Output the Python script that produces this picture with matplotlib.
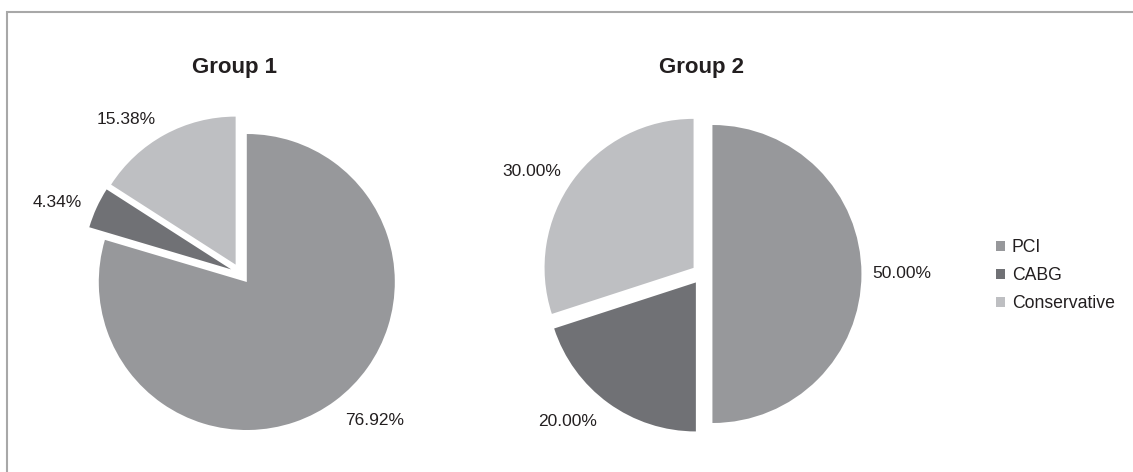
import matplotlib
matplotlib.use("Agg")
import matplotlib.pyplot as plt
from matplotlib.patches import Rectangle, Patch

plt.rcParams['font.family'] = ['Liberation Sans', 'DejaVu Sans']

categories = ["PCI", "CABG", "Conservative"]
group1_values = [76.92, 4.34, 15.38]
group2_values = [50.00, 20.00, 30.00]
group1_labels = ["76.92%", "4.34%", "15.38%"]
group2_labels = ["50.00%", "20.00%", "30.00%"]
titles = ["Group 1", "Group 2"]
colors = ["#97989b", "#707175", "#bebfc2"]
text_color = "#231f20"

W, H = 1133, 472
fig = plt.figure(figsize=(W / 100, H / 100), dpi=100)
fig.patch.set_facecolor("white")

# label positions in radius units (relative to pie centre)
label_pos = [
    [(0.908, -0.99), (-1.237, 0.48), (-0.774, 1.04)],
    [(1.342, 0.0), (-0.899, -0.99), (-1.141, 0.69)],
]

specs = [
    (group1_values, group1_labels, (240.6, 273.7), 148.0, 234.0),
    (group2_values, group2_labels, (702.0, 274.0), 149.0, 701.7),
]

LIM = 1.3
for i, (vals, labs, (cx, cy), r, tx) in enumerate(specs):
    S = 2 * LIM * r
    ax = fig.add_axes([(cx - S / 2) / W, (H - cy - S / 2) / H, S / W, S / H])
    ax.pie(vals, colors=colors, startangle=90, counterclock=False,
           explode=[0.07] * len(vals), radius=1.0,
           wedgeprops=dict(linewidth=0, edgecolor="none"))
    ax.set_xlim(-LIM, LIM)
    ax.set_ylim(-LIM, LIM)
    ax.set_aspect("equal")
    ax.axis("off")
    for lab, (px, py) in zip(labs, label_pos[i]):
        ax.text(px, py, lab, ha="center", va="center", fontsize=12.5,
                color=text_color, clip_on=False)
    fig.text(tx / W, (H - 73.3) / H, titles[i], ha="center", va="baseline",
             fontsize=16, fontweight="bold", color=text_color)

handles = [Patch(facecolor=c, edgecolor="none") for c in colors]
fig.legend(handles, categories, loc="center left",
           bbox_to_anchor=(995.5 / W, (H - 275.5) / H), frameon=False,
           fontsize=12.7, handlelength=0.52, handleheight=0.52,
           handletextpad=0.4, labelspacing=0.62, borderpad=0, borderaxespad=0,
           labelcolor=text_color)

fig.add_artist(Rectangle((7 / W, -0.1), 1.2, (H - 12) / H + 0.1,
                         transform=fig.transFigure, fill=False,
                         edgecolor="#a8a8a8", linewidth=1.5))

fig.savefig("out.png", dpi=100)
